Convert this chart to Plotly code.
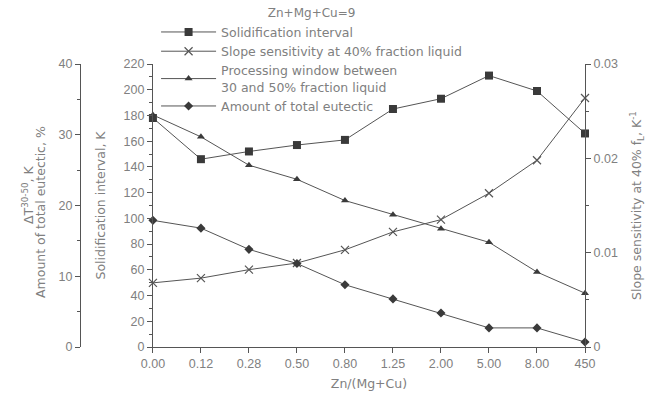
import plotly.graph_objects as go

# Zn/(Mg+Cu) ratio categories
ratios = ["0.00", "0.12", "0.28", "0.50", "0.80", "1.25", "2.00", "5.00", "8.00", "450"]

# Solidification interval, K
solid_interval = [178, 146, 152, 157, 161, 185, 193, 211, 199, 166]
# Slope sensitivity at 40% fraction liquid, 1/K
slope_sens = [0.0068, 0.0073, 0.0082, 0.0089, 0.0103, 0.0122, 0.0135, 0.0163, 0.0198, 0.0264]
# Processing window between 30 and 50% fraction liquid, K
proc_window = [32.8, 29.7, 25.7, 23.7, 20.7, 18.7, 16.7, 14.8, 10.6, 7.6]
# Amount of total eutectic, %
eutectic = [17.9, 16.8, 13.8, 11.8, 8.8, 6.8, 4.8, 2.7, 2.7, 0.7]

# Right-axis tick labels
slope_ticks = [0, 0.01, 0.02, 0.03]
slope_ticktext = ["0", "0.01", "0.02", "0.03"]

LINE = "#555555"
TEXT = "#808080"
TICK_FONT = "Liberation Sans, Arial, sans-serif"
LABEL_FONT = "DejaVu Sans, Verdana, sans-serif"

fig = go.Figure()

fig.add_trace(go.Scatter(
    x=ratios, y=solid_interval, name="Solidification interval",
    mode="lines+markers", yaxis="y", cliponaxis=False,
    line=dict(color=LINE, width=1),
    marker=dict(symbol="square", size=8, color="#3a3a3a"),
))
fig.add_trace(go.Scatter(
    x=ratios, y=slope_sens, name="Slope sensitivity at 40% fraction liquid",
    mode="lines+markers", yaxis="y2", cliponaxis=False,
    line=dict(color=LINE, width=1),
    marker=dict(symbol="x-thin", size=8, line=dict(color=LINE, width=1.2)),
))
fig.add_trace(go.Scatter(
    x=ratios, y=proc_window, name="Processing window between<br>30 and 50% fraction liquid",
    mode="lines+markers", yaxis="y3", cliponaxis=False,
    line=dict(color=LINE, width=1),
    marker=dict(symbol="triangle-up", size=7, color="#3a3a3a"),
))
fig.add_trace(go.Scatter(
    x=ratios, y=eutectic, name="Amount of total eutectic",
    mode="lines+markers", yaxis="y3", cliponaxis=False,
    line=dict(color=LINE, width=1),
    marker=dict(symbol="diamond", size=7, color="#3a3a3a"),
))

axis_common = dict(
    showline=True, linecolor=LINE, linewidth=1,
    ticks="outside", ticklen=5, tickcolor=LINE,
    tickfont=dict(size=12.5, color=TEXT, family=TICK_FONT),
    showgrid=False, zeroline=False, automargin=False,
)
title_font = dict(size=12.5, color=TEXT, family=LABEL_FONT)

fig.update_layout(
    width=647, height=403,
    margin=dict(l=60, r=62, t=64, b=56, autoexpand=False),
    paper_bgcolor="white", plot_bgcolor="white",
    font=dict(family=LABEL_FONT, size=12.5, color=TEXT),
    xaxis=dict(
        **axis_common, type="category", domain=[0.177, 1.0],
        range=[0, 9], anchor="y",
        title=dict(text="Zn/(Mg+Cu)", font=title_font, standoff=9),
    ),
    yaxis=dict(
        **axis_common, range=[0, 220], dtick=20, side="left", anchor="x",
        minor=dict(dtick=10, ticks="outside", ticklen=3, tickcolor=LINE),
        title=dict(text="Solidification interval, K", font=title_font),
    ),
    yaxis2=dict(
        **axis_common, range=[0, 0.03], side="right", anchor="x",
        overlaying="y", tickvals=slope_ticks, ticktext=slope_ticktext,
        minor=dict(dtick=0.005, ticks="outside", ticklen=3, tickcolor=LINE),
        title=dict(text="Slope sensitivity at 40% f<sub>L</sub>, K<sup>-1</sup>",
                   font=title_font),
    ),
    yaxis3=dict(
        **axis_common, range=[0, 40], dtick=10, side="left", anchor="free",
        overlaying="y", position=0.038,
        minor=dict(dtick=5, ticks="outside", ticklen=3, tickcolor=LINE),
    ),
    legend=dict(
        x=0.183, y=1.22, xanchor="left", yanchor="top",
        bgcolor="rgba(0,0,0,0)", itemwidth=55,
        font=dict(size=12.5, color=TEXT, family=LABEL_FONT),
        title=dict(text="Zn+Mg+Cu=9", side="top center",
                   font=dict(size=12, color=TEXT, family=LABEL_FONT)),
        tracegroupgap=0,
    ),
    showlegend=True,
)

# Two-line title of the outer left axis, set as rotated text
outer_titles = [("ΔT<sup>30-50</sup>, K", 28, 195), ("Amount of total eutectic, %", 41, 212)]
for text, px, py in outer_titles:
    fig.add_annotation(
        text=text, textangle=-90, showarrow=False,
        xref="paper", yref="paper",
        x=(px - 60) / 525, y=(347 - py) / 283,
        xanchor="center", yanchor="middle",
        font=title_font,
    )

fig.write_html("out.html")
